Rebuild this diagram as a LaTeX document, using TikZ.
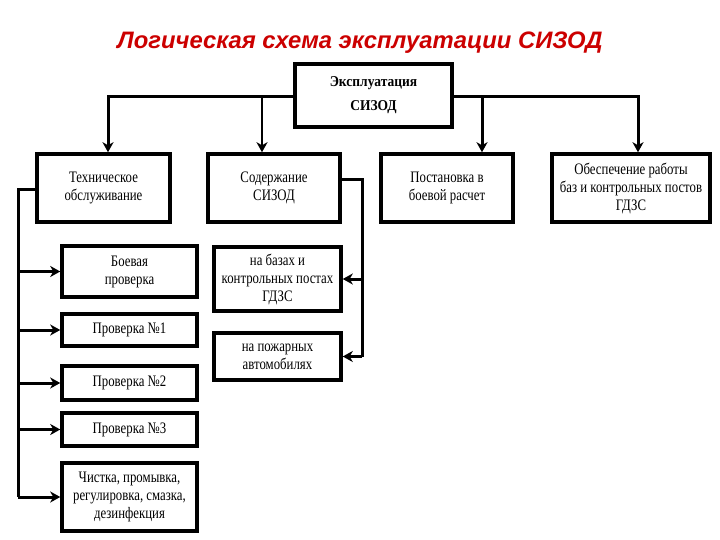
\documentclass[tikz,border=0pt]{standalone}
\usepackage{fontspec}
\setmainfont{Liberation Serif}
\newfontfamily\titlefont{Liberation Sans}
\newfontfamily\condfont[FakeStretch=0.8]{Liberation Serif}
\newfontfamily\topfont[FakeStretch=0.9]{Liberation Serif}
\usetikzlibrary{arrows.meta}
\definecolor{titlered}{RGB}{204,0,0}
\tikzset{
  box/.style={draw=black, line width=3.5pt, fill=white, align=center, inner sep=2pt,
    font=\condfont\fontsize{16}{18}\selectfont},
  conn/.style={draw=black, line width=3pt},
  thin conn/.style={draw=black, line width=2pt},
  arr/.style={-{Stealth[length=10pt,width=11pt,inset=3pt]}},
}
\begin{document}
\begin{tikzpicture}[x=1pt,y=-1pt]
\useasboundingbox (0,0) rectangle (720,540);
\fill[white] (0,0) rectangle (720,540);

\node[font=\titlefont\bfseries\itshape\fontsize{23.8}{26}\selectfont, text=titlered] (title) at (360,43) {Логическая схема эксплуатации СИЗОД};

\node[box, minimum width=157pt, minimum height=63pt, font=\topfont\bfseries\fontsize{15}{24}\selectfont] (top) at (373.5,95.5) {Эксплуатация\\СИЗОД};

\node[box, minimum width=133pt, minimum height=68pt] (tech) at (103.5,188) {Техническое\\обслуживание};
\node[box, minimum width=132pt, minimum height=68pt] (sod) at (274,188) {Содержание\\СИЗОД};
\node[box, minimum width=132pt, minimum height=68pt] (post) at (447,188) {Постановка в\\боевой расчет};
\node[box, minimum width=158pt, minimum height=68pt] (obesp) at (631,188) {Обеспечение работы\\баз и контрольных постов\\ГДЗС};

\node[box, minimum width=135pt, minimum height=51pt] (boev) at (129.5,271.5) {Боевая\\проверка};
\node[box, minimum width=135pt, minimum height=32pt] (p1) at (129.5,330) {Проверка №1};
\node[box, minimum width=135pt, minimum height=34pt] (p2) at (129.5,383) {Проверка №2};
\node[box, minimum width=135pt, minimum height=33pt] (p3) at (129.5,429.5) {Проверка №3};
\node[box, minimum width=135pt, minimum height=68pt] (chist) at (129.5,497) {Чистка, промывка,\\регулировка, смазка,\\дезинфекция};

\node[box, minimum width=127pt, minimum height=64pt] (baz) at (277.5,279) {на базах и\\контрольных постах\\ГДЗС};
\node[box, minimum width=127pt, minimum height=47pt] (pozh) at (277.5,356.5) {на пожарных\\автомобилях};

% top distribution
\coordinate (jl) at ([yshift=-1.5pt]top.west);
\coordinate (jr) at ([yshift=-1.5pt]top.east);
\draw[conn, arr] (jl) -| ([xshift=4.5pt]tech.north);
\draw[conn, arr] (jr) -| ([xshift=7pt]obesp.north);
\coordinate (js) at ([xshift=-12pt]sod.north |- jl);
\draw[thin conn, arr] (js) -- ([xshift=-12pt]sod.north);
\coordinate (jp) at ([xshift=35pt]post.north |- jr);
\draw[conn, arr] (jp) -- ([xshift=35pt]post.north);

% left bus
\coordinate (bt) at ([yshift=-2pt]tech.west -| 18,0);
\coordinate (bb) at (bt |- chist.west);
\draw[conn] ([yshift=-2pt]tech.west) -- (bt) -- (bb);
\foreach \n in {boev,p1,p2,p3,chist}
  \draw[conn, arr] (\n.west -| bt) -- (\n.west);

% right bracket of Содержание
\coordinate (st) at (362,180);
\draw[conn] (sod.east |- st) -- (st) -- (st |- pozh.east);
\draw[conn, arr] (st |- pozh.east) -- (pozh.east);
\draw[conn, arr] (st |- baz.east) -- (baz.east);
\end{tikzpicture}
\end{document}
